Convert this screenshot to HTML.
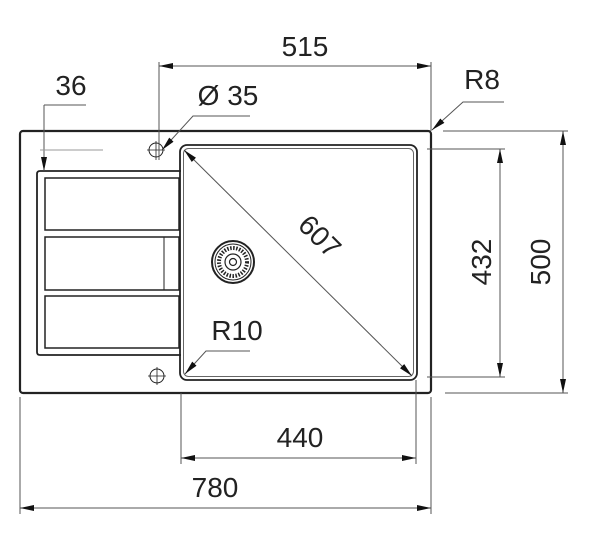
<!DOCTYPE html>
<html><head><meta charset="utf-8"><style>
html,body{margin:0;padding:0;background:#fff;}
svg{display:block}
text{font-family:"Liberation Sans",sans-serif;fill:#222;}
</style></head><body>
<svg width="600" height="544" viewBox="0 0 600 544" xmlns="http://www.w3.org/2000/svg">
<defs>
<marker id="a" viewBox="0 0 14 6" refX="14" refY="3" markerWidth="14" markerHeight="6" orient="auto-start-reverse" markerUnits="userSpaceOnUse"><path d="M0,0 L14,3 L0,6 Z" fill="#111"/></marker>
</defs>
<g fill="none" stroke="#222">
<rect x="20" y="131" width="411" height="262" rx="3" stroke-width="2.2"/>
<rect x="180" y="145" width="237" height="235" rx="7" stroke-width="1.8"/>
<rect x="183.5" y="148.5" width="230" height="228" rx="5" stroke-width="1" stroke="#666"/>
<path d="M181,171 H40 Q37,171 37,174 V352 Q37,355 40,355 H181" stroke-width="1.8"/>
<rect x="45" y="178" width="134" height="52" stroke-width="1.5"/>
<rect x="45" y="237" width="134" height="53" stroke-width="1.5"/>
<line x1="164" y1="237" x2="164" y2="290" stroke-width="1"/>
<rect x="45" y="296" width="134" height="52" stroke-width="1.5"/>
<circle cx="233" cy="262" r="21" stroke-width="2"/>
<circle cx="233" cy="262" r="18" stroke-width="1"/>
<circle cx="233" cy="262" r="14" stroke-width="4" stroke-dasharray="1.5 1.5"/>
<circle cx="233" cy="262" r="8" stroke-width="1.2"/>
<circle cx="233" cy="262" r="3.5" stroke-width="1.2"/>
<circle cx="156" cy="150" r="7" stroke-width="1"/>
<line x1="147" y1="150" x2="165" y2="150" stroke-width="0.8"/>
<line x1="156" y1="141" x2="156" y2="160" stroke-width="0.8"/>
<circle cx="157" cy="376" r="7" stroke-width="1"/>
<line x1="148" y1="376" x2="166" y2="376" stroke-width="0.8"/>
<line x1="157" y1="367" x2="157" y2="385" stroke-width="0.8"/>
</g>
<g fill="none" stroke="#555" stroke-width="1">
<line x1="159" y1="62" x2="159" y2="160"/>
<line x1="431" y1="62" x2="431" y2="131"/>
<line x1="159" y1="66" x2="431" y2="66" marker-start="url(#a)" marker-end="url(#a)"/>
<line x1="44" y1="105" x2="86" y2="105"/>
<line x1="44" y1="105" x2="44" y2="171" marker-end="url(#a)"/>
<line x1="40" y1="150" x2="103" y2="150" stroke="#999"/>
<polyline points="250,116 193,116 162,150" marker-end="url(#a)"/>
<polyline points="504,102 463,102 432,130" marker-end="url(#a)"/>
<polyline points="250,351 206,351 185,374" marker-end="url(#a)"/>
<line x1="184" y1="150" x2="412" y2="376" marker-start="url(#a)" marker-end="url(#a)"/>
<line x1="427" y1="149" x2="505" y2="149"/>
<line x1="427" y1="377" x2="505" y2="377"/>
<line x1="500" y1="149" x2="500" y2="377" marker-start="url(#a)" marker-end="url(#a)"/>
<line x1="443" y1="131" x2="568" y2="131"/>
<line x1="445" y1="393" x2="568" y2="393"/>
<line x1="563" y1="131" x2="563" y2="393" marker-start="url(#a)" marker-end="url(#a)"/>
<line x1="181" y1="393" x2="181" y2="464"/>
<line x1="416" y1="380" x2="416" y2="464"/>
<line x1="181" y1="458" x2="416" y2="458" marker-start="url(#a)" marker-end="url(#a)"/>
<line x1="20" y1="397" x2="20" y2="514"/>
<line x1="431" y1="397" x2="431" y2="514"/>
<line x1="20" y1="508" x2="431" y2="508" marker-start="url(#a)" marker-end="url(#a)"/>
</g>
<g font-size="28">
<text x="305" y="56" text-anchor="middle">515</text>
<text x="71" y="95" text-anchor="middle">36</text>
<text x="228" y="105" text-anchor="middle">Ø 35</text>
<text x="482" y="89" text-anchor="middle">R8</text>
<text x="237" y="340" text-anchor="middle">R10</text>
<text x="300" y="447" text-anchor="middle">440</text>
<text x="215" y="497" text-anchor="middle">780</text>
<text transform="translate(313,243) rotate(45)" text-anchor="middle">607</text>
<text transform="translate(491,262) rotate(-90)" text-anchor="middle">432</text>
<text transform="translate(550,262) rotate(-90)" text-anchor="middle">500</text>
</g>
</svg>
</body></html>
